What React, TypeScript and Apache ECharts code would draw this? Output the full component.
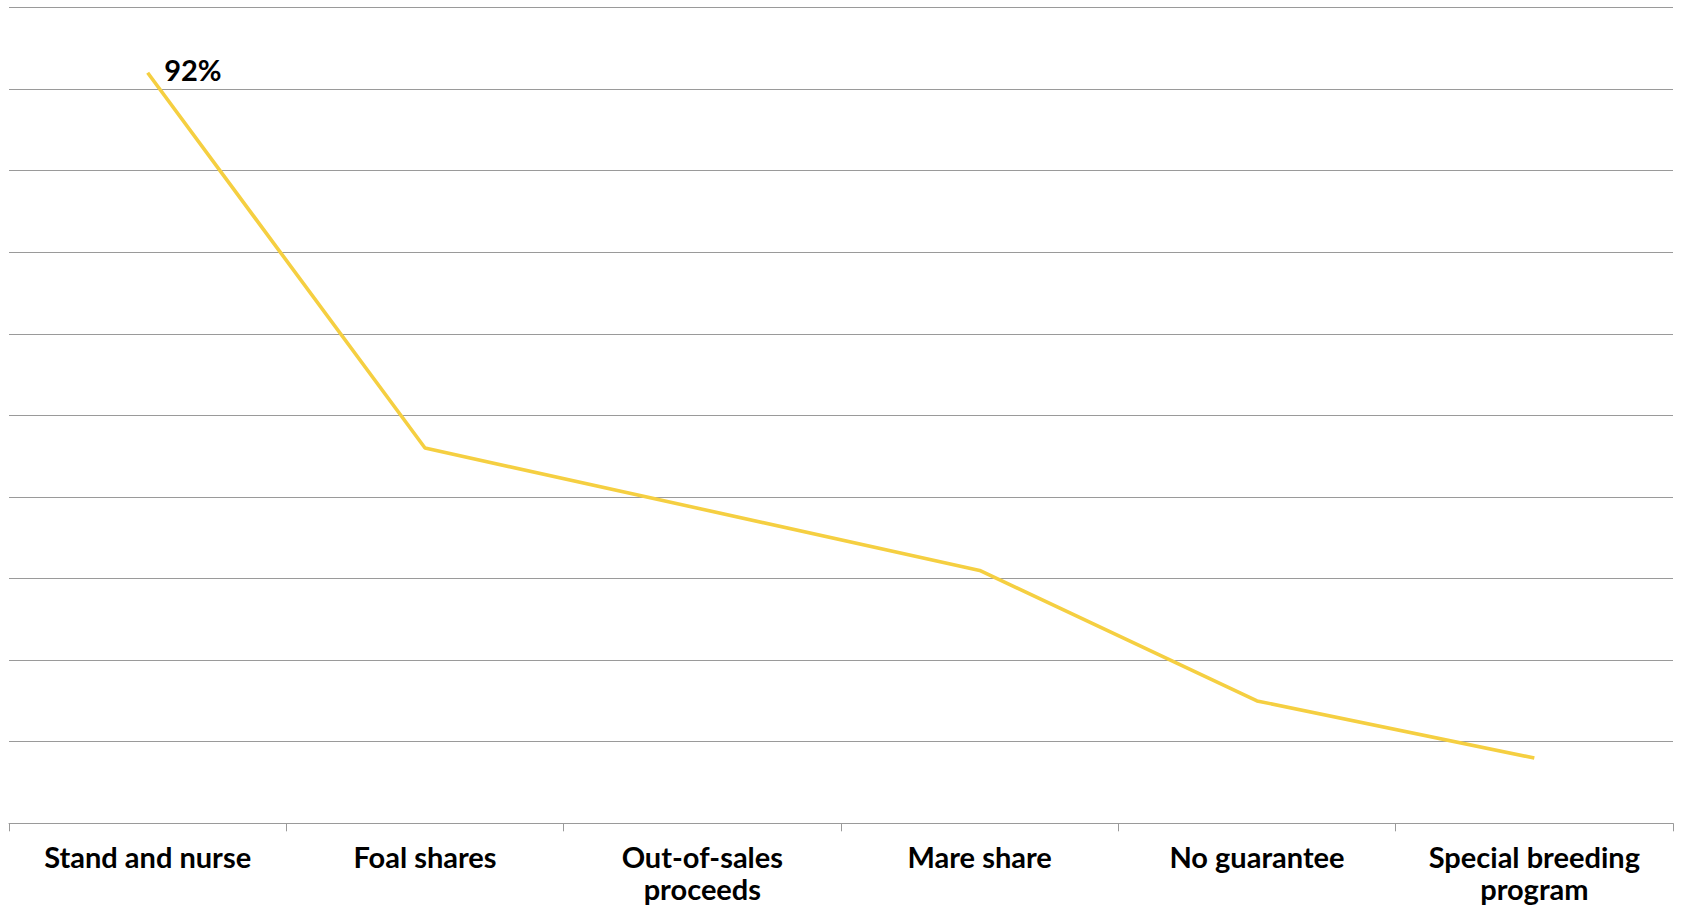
import React, { useEffect, useRef } from "react";
import * as echarts from "echarts";

const categories = [
  "Stand and nurse",
  "Foal shares",
  "Out-of-sales\nproceeds",
  "Mare share",
  "No guarantee",
  "Special breeding\nprogram",
];
const values = [92, 46, 38.5, 31, 15, 8];
const labelledIndex = 0;

export default function App() {
  const ref = useRef<HTMLDivElement>(null);
  useEffect(() => {
    if (!ref.current) return;
    const chart = echarts.init(ref.current, null, { renderer: "svg" });
    chart.setOption({
      animation: false,
      backgroundColor: "#ffffff",
      grid: { left: 9, right: 8, top: 7.5, bottom: 83.7, containLabel: false },
      xAxis: {
        type: "category",
        data: categories,
        boundaryGap: true,
        axisLine: { show: true, lineStyle: { color: "#9a9a9a", width: 1 } },
        axisTick: { show: true, length: 8, lineStyle: { color: "#9a9a9a", width: 1 } },
        axisLabel: {
          interval: 0,
          margin: 17,
          color: "#000000",
          fontFamily: "Lato",
          fontWeight: "bold",
          fontSize: 29,
          lineHeight: 32,
        },
      },
      yAxis: {
        type: "value",
        min: 0,
        max: 100,
        interval: 10,
        axisLabel: { show: false },
        axisLine: { show: false },
        axisTick: { show: false },
        splitLine: { show: true, lineStyle: { color: "#9a9a9a", width: 1 } },
      },
      series: [
        {
          type: "line",
          data: values,
          symbol: "none",
          lineStyle: { color: "#F5CF41", width: 3.6 },
          itemStyle: { color: "#F5CF41" },
          markPoint: {
            symbol: "circle",
            symbolSize: 1,
            itemStyle: { color: "rgba(0,0,0,0)" },
            data: [
              {
                coord: [labelledIndex, values[labelledIndex]],
                value: values[labelledIndex],
              },
            ],
            label: {
              show: true,
              position: "right",
              distance: 16,
              offset: [0, -3],
              formatter: "{c}%",
              color: "#000000",
              fontFamily: "Lato",
              fontWeight: "bold",
              fontSize: 29,
            },
          },
        },
      ],
    });
    return () => chart.dispose();
  }, []);
  return (
    <div
      ref={ref}
      style={{ position: "absolute", left: 0, top: 0, width: 1681, height: 907 }}
    />
  );
}
